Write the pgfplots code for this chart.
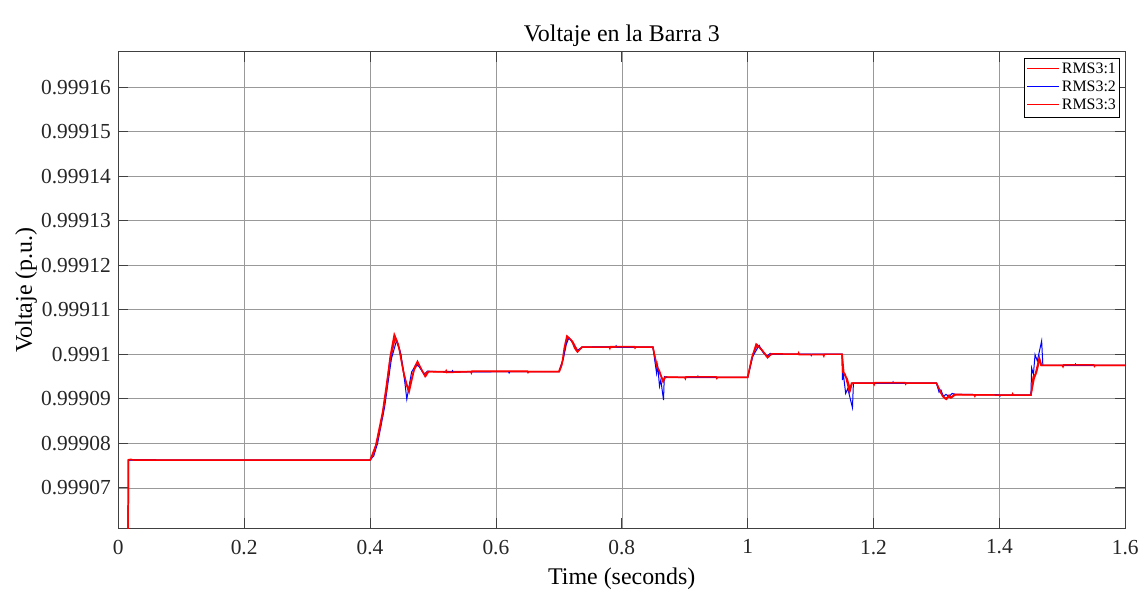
\documentclass[border=0pt]{standalone}
\usepackage{fontspec}
\setmainfont{Liberation Serif}
\usepackage{pgfplots}
\usepackage{pgfplotstable}
\pgfplotsset{compat=1.18}
\definecolor{axgray}{HTML}{404040}
% Voltage stored as (V - 0.999) x 1e5, i.e. 7.62 means 0.9990762 p.u.
\pgfplotstableread{
t v
0.0155 5.00
0.0160 7.62
0.0200 7.63
0.1000 7.62
0.2000 7.62
0.3000 7.62
0.4000 7.62
0.4090 7.95
0.4200 8.70
0.4310 9.80
0.4400 10.38
0.4470 10.10
0.4560 9.40
0.4620 9.15
0.4700 9.65
0.4760 9.80
0.4840 9.60
0.4890 9.52
0.4930 9.61
0.7000 9.61
0.7060 9.85
0.7140 10.39
0.7220 10.28
0.7300 10.07
0.7370 10.16
0.8494 10.16
0.8560 9.70
0.8610 9.55
0.8660 9.40
0.8690 9.48
1.0000 9.48
1.0080 9.98
1.0150 10.21
1.0250 10.05
1.0320 9.94
1.0380 10.00
1.1500 10.00
1.1530 9.55
1.1580 9.45
1.1630 9.20
1.1660 9.35
1.3000 9.35
1.3060 9.15
1.3140 9.00
1.3180 9.04
1.3240 9.03
1.3300 9.09
1.4500 9.08
1.4550 9.45
1.4590 9.60
1.4640 9.88
1.4670 9.75
1.6000 9.75
}\seriesA
\pgfplotstableread{
t v
0.0155 5.00
0.0160 7.62
0.1000 7.62
0.2000 7.62
0.3000 7.62
0.4000 7.62
0.4060 7.72
0.4120 8.00
0.4230 8.80
0.4340 9.90
0.4423 10.32
0.4490 10.00
0.4550 9.40
0.4584 8.99
0.4660 9.60
0.4730 9.77
0.4780 9.72
0.4860 9.55
0.4910 9.62
0.5300 9.60
0.5310 9.63
0.5320 9.60
0.6200 9.61
0.6210 9.58
0.6220 9.61
0.7007 9.61
0.7070 9.90
0.7110 10.20
0.7160 10.37
0.7220 10.25
0.7280 10.08
0.7330 10.12
0.7380 10.16
0.7900 10.17
0.7910 10.19
0.7920 10.16
0.8494 10.16
0.8553 9.57
0.8570 9.75
0.8599 9.28
0.8620 9.42
0.8663 8.97
0.8675 9.50
0.8700 9.48
0.9200 9.48
0.9210 9.51
0.9220 9.48
1.0000 9.48
1.0080 9.95
1.0182 10.20
1.0240 10.05
1.0300 9.95
1.0360 10.02
1.0400 10.00
1.1000 10.00
1.1010 9.97
1.1020 10.00
1.1500 10.00
1.1506 9.42
1.1515 9.61
1.1557 9.12
1.1590 9.23
1.1665 8.80
1.1680 9.35
1.2300 9.35
1.2310 9.38
1.2320 9.35
1.3000 9.35
1.3040 9.15
1.3070 9.20
1.3110 9.05
1.3150 9.10
1.3200 9.05
1.3250 9.12
1.3300 9.10
1.4000 9.09
1.4010 9.06
1.4020 9.08
1.4500 9.08
1.4512 9.69
1.4540 9.55
1.4566 9.99
1.4602 9.85
1.4671 10.30
1.4690 9.75
1.5200 9.75
1.5210 9.78
1.5220 9.75
1.6000 9.75
}\seriesB
\pgfplotstableread{
t v
0.0155 5.00
0.0160 7.63
0.0200 7.64
0.0250 7.62
0.1000 7.62
0.2000 7.62
0.3000 7.62
0.4000 7.62
0.4050 7.75
0.4107 8.02
0.4160 8.35
0.4213 8.78
0.4260 9.20
0.4317 9.92
0.4385 10.445
0.4449 10.22
0.4529 9.61
0.4608 9.195
0.4660 9.45
0.4714 9.73
0.4754 9.84
0.4820 9.65
0.4875 9.50
0.4913 9.61
0.5200 9.60
0.5210 9.63
0.5220 9.59
0.5600 9.61
0.5610 9.58
0.5620 9.62
0.6500 9.62
0.6510 9.59
0.6520 9.61
0.7007 9.61
0.7048 9.76
0.7086 10.14
0.7127 10.41
0.7208 10.30
0.7250 10.14
0.7296 10.05
0.7366 10.16
0.7800 10.16
0.7810 10.13
0.7820 10.17
0.8200 10.17
0.8210 10.14
0.8220 10.16
0.8494 10.16
0.8558 9.73
0.8600 9.62
0.8636 9.46
0.8655 9.38
0.8690 9.49
0.9000 9.48
0.9010 9.45
0.9020 9.49
0.9500 9.49
0.9510 9.46
0.9520 9.48
1.0000 9.48
1.0066 9.92
1.0135 10.23
1.0226 10.10
1.0316 9.92
1.0374 10.01
1.0800 10.00
1.0810 10.03
1.0820 9.99
1.1200 9.99
1.1210 9.96
1.1220 10.00
1.1500 10.00
1.1510 9.60
1.1550 9.55
1.1616 9.16
1.1650 9.35
1.2000 9.35
1.2010 9.32
1.2020 9.36
1.2500 9.36
1.2510 9.33
1.2520 9.35
1.3000 9.35
1.3050 9.20
1.3100 9.05
1.3160 8.99
1.3200 9.08
1.3230 9.02
1.3280 9.10
1.3600 9.09
1.3610 9.06
1.3620 9.09
1.4200 9.08
1.4210 9.11
1.4220 9.08
1.4500 9.08
1.4538 9.50
1.4570 9.55
1.4633 9.92
1.4660 9.75
1.5000 9.75
1.5010 9.72
1.5020 9.76
1.5500 9.76
1.5510 9.73
1.5520 9.75
1.6000 9.75
}\seriesC
\begin{document}
\begin{tikzpicture}
\useasboundingbox (0,0) rectangle (1146bp,592bp);
\begin{axis}[
  at={(118.3bp,63.7bp)}, anchor=south west,
  scale only axis, width=1007bp, height=476.6bp,
  xmin=0, xmax=1.6, ymin=6.091, ymax=16.795,
  xtick={0,0.2,0.4,0.6,0.8,1,1.2,1.4,1.6},
  xticklabels={0,0.2,0.4,0.6,0.8,1,1.2,1.4,1.6},
  ytick={7,8,9,10,11,12,13,14,15,16},
  yticklabels={0.99907,0.99908,0.99909,0.9991,0.99911,0.99912,0.99913,0.99914,0.99915,0.99916},
  tick align=inside, tick pos=both,
  major tick length=10bp,
  grid=major, grid style={black!40, line width=0.6pt},
  axis line style={axgray, line width=0.8pt},
  tick style={axgray, line width=0.8pt},
  ticklabel style={font=\fontsize{21.5}{24}\selectfont, text=black!85},
  xticklabel style={yshift=-8bp},
  yticklabel style={xshift=-4bp},
  title={Voltaje en la Barra 3},
  title style={font=\fontsize{24}{28}\selectfont, at={(axis description cs:0.5,1.020)}, anchor=center},
  xlabel={Time (seconds)},
  xlabel style={font=\fontsize{24}{28}\selectfont, at={(axis description cs:0.5,-0.106)}, anchor=center},
  ylabel={Voltaje (p.u.)},
  ylabel style={font=\fontsize{24}{28}\selectfont, at={(axis description cs:-0.0915,0.5)}, anchor=center},
]
\addplot[red, line width=1.5pt] table[x=t,y=v] {\seriesA};
\addplot[blue, line width=1.0pt] table[x=t,y=v] {\seriesB};
\addplot[red, line width=1.5pt] table[x=t,y=v] {\seriesC};
% legend (drawn as a framed box of coloured rules and entry names)
\node[draw=black, fill=white, line width=0.7pt, anchor=north east, inner xsep=3bp, inner ysep=2bp,
      font=\fontsize{16}{18.3}\selectfont]
  at (axis description cs:0.994,0.986) {%
  \begin{tabular}{@{}l@{\hspace{2.5bp}}l@{}}
  \textcolor{red}{\rule[0.3em]{32bp}{0.9pt}} & RMS3:1\\
  \textcolor{blue}{\rule[0.3em]{32bp}{0.9pt}} & RMS3:2\\
  \textcolor{red}{\rule[0.3em]{32bp}{0.9pt}} & RMS3:3
  \end{tabular}};
\end{axis}
\end{tikzpicture}
\end{document}
